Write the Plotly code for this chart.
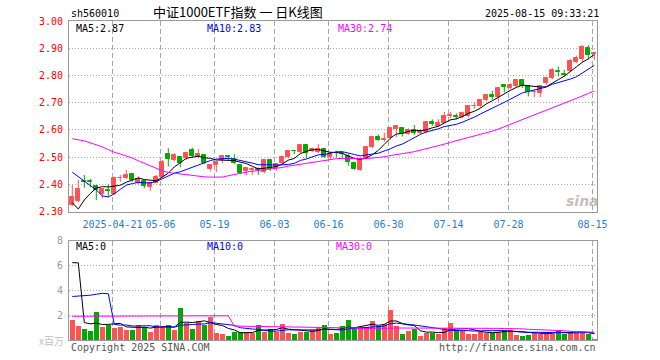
import plotly.graph_objects as go
import pandas as pd

# ---------------- data ----------------
dates = (
    ["04-10", "04-11", "04-14", "04-15", "04-16", "04-17", "04-18", "04-21", "04-22", "04-23",
     "04-24", "04-25", "04-28", "04-29", "04-30", "05-06", "05-07", "05-08", "05-09", "05-12",
     "05-13", "05-14", "05-15", "05-16", "05-19", "05-20", "05-21", "05-22", "05-23", "05-26",
     "05-27", "05-28", "05-29", "05-30", "06-03", "06-04", "06-05", "06-06", "06-09", "06-10",
     "06-11", "06-12", "06-13", "06-16", "06-17", "06-18", "06-19", "06-20", "06-23", "06-24",
     "06-25", "06-26", "06-27", "06-30", "07-01", "07-02", "07-03", "07-04", "07-07", "07-08",
     "07-09", "07-10", "07-11", "07-14", "07-15", "07-16", "07-17", "07-18", "07-21", "07-22",
     "07-23", "07-24", "07-25", "07-28", "07-29", "07-30", "07-31", "08-01", "08-04", "08-05",
     "08-06", "08-07", "08-08", "08-11", "08-12", "08-13", "08-14", "08-15"]
)

opens = [2.323, 2.339, 2.414, 2.413, 2.396, 2.365, 2.379, 2.365, 2.422, 2.423,
         2.437, 2.404, 2.413, 2.390, 2.407, 2.429, 2.511, 2.488, 2.502, 2.496,
         2.527, 2.502, 2.509, 2.457, 2.470, 2.490, 2.503, 2.494, 2.472, 2.448,
         2.453, 2.455, 2.445, 2.490, 2.460, 2.478, 2.502, 2.524, 2.518, 2.545,
         2.521, 2.520, 2.530, 2.499, 2.516, 2.514, 2.505, 2.480, 2.454, 2.496,
         2.537, 2.573, 2.565, 2.569, 2.603, 2.606, 2.585, 2.600, 2.588, 2.594,
         2.630, 2.615, 2.627, 2.653, 2.651, 2.649, 2.650, 2.687, 2.687, 2.711,
         2.729, 2.720, 2.766, 2.754, 2.762, 2.784, 2.760, 2.738, 2.736, 2.772,
         2.790, 2.816, 2.804, 2.815, 2.849, 2.860, 2.902, 2.878]
highs = [2.398, 2.417, 2.435, 2.420, 2.398, 2.386, 2.400, 2.429, 2.435, 2.453,
         2.440, 2.430, 2.416, 2.410, 2.435, 2.490, 2.533, 2.515, 2.505, 2.518,
         2.535, 2.530, 2.511, 2.474, 2.487, 2.508, 2.505, 2.511, 2.474, 2.463,
         2.463, 2.463, 2.493, 2.493, 2.478, 2.505, 2.527, 2.527, 2.548, 2.548,
         2.535, 2.548, 2.530, 2.521, 2.524, 2.518, 2.512, 2.484, 2.496, 2.541,
         2.578, 2.584, 2.590, 2.609, 2.615, 2.606, 2.606, 2.618, 2.602, 2.630,
         2.639, 2.639, 2.667, 2.667, 2.661, 2.667, 2.689, 2.702, 2.713, 2.732,
         2.744, 2.756, 2.766, 2.772, 2.784, 2.787, 2.766, 2.747, 2.763, 2.793,
         2.827, 2.833, 2.821, 2.861, 2.873, 2.912, 2.912, 2.883]
lows = [2.320, 2.335, 2.388, 2.390, 2.343, 2.350, 2.355, 2.361, 2.410, 2.420,
        2.410, 2.400, 2.386, 2.377, 2.405, 2.425, 2.465, 2.485, 2.463, 2.490,
        2.498, 2.496, 2.474, 2.448, 2.445, 2.478, 2.487, 2.474, 2.438, 2.433,
        2.435, 2.435, 2.441, 2.450, 2.450, 2.474, 2.496, 2.511, 2.515, 2.496,
        2.518, 2.515, 2.499, 2.490, 2.500, 2.495, 2.468, 2.454, 2.450, 2.493,
        2.533, 2.560, 2.557, 2.565, 2.573, 2.576, 2.582, 2.582, 2.585, 2.588,
        2.615, 2.612, 2.624, 2.643, 2.639, 2.643, 2.646, 2.678, 2.683, 2.705,
        2.711, 2.705, 2.738, 2.750, 2.756, 2.754, 2.723, 2.720, 2.720, 2.766,
        2.787, 2.796, 2.796, 2.812, 2.845, 2.849, 2.861, 2.857]
closes = [2.355, 2.382, 2.408, 2.408, 2.380, 2.382, 2.376, 2.423, 2.425, 2.435,
          2.416, 2.421, 2.394, 2.407, 2.429, 2.484, 2.493, 2.508, 2.480, 2.515,
          2.505, 2.511, 2.478, 2.472, 2.484, 2.505, 2.500, 2.478, 2.441, 2.460,
          2.455, 2.452, 2.490, 2.457, 2.474, 2.502, 2.523, 2.522, 2.545, 2.515,
          2.530, 2.530, 2.502, 2.512, 2.514, 2.512, 2.484, 2.456, 2.494, 2.539,
          2.573, 2.563, 2.568, 2.606, 2.615, 2.585, 2.600, 2.590, 2.598, 2.630,
          2.622, 2.627, 2.651, 2.655, 2.649, 2.663, 2.687, 2.689, 2.711, 2.729,
          2.720, 2.754, 2.757, 2.766, 2.784, 2.763, 2.741, 2.740, 2.760, 2.790,
          2.821, 2.814, 2.802, 2.854, 2.866, 2.906, 2.876, 2.883]
volumes = [1.64, 1.17, 0.93, 0.77, 2.28, 1.09, 1.22, 1.01, 1.09, 0.85,
           0.85, 1.25, 1.11, 0.72, 1.25, 1.11, 1.25, 0.85, 2.60, 1.38,
           0.93, 1.56, 1.25, 1.86, 0.64, 0.53, 0.37, 0.66, 0.72, 0.66,
           0.58, 1.25, 0.69, 0.95, 0.72, 1.35, 0.64, 0.53, 0.72, 0.72,
           0.85, 0.98, 1.25, 0.53, 0.64, 1.17, 1.64, 0.93, 1.11, 1.11,
           1.56, 1.17, 1.33, 2.44, 1.17, 0.53, 0.77, 0.90, 0.37, 0.58,
           0.58, 0.53, 1.01, 1.41, 0.85, 0.77, 0.53, 0.53, 0.72, 0.58,
           0.58, 0.72, 0.85, 0.85, 0.45, 0.40, 0.45, 0.64, 0.53, 0.53,
           0.53, 0.85, 0.53, 0.72, 0.58, 0.58, 0.53, 0.13]

# moving-average values at the start of the window (they depend on days before it)
ma5_head = [2.333, 2.310, 2.343, 2.367]
ma10_head = [2.445, 2.428, 2.410, 2.396, 2.380, 2.358, 2.354, 2.366, 2.382]
ma30_head = [2.568, 2.564, 2.560, 2.553, 2.546, 2.538, 2.528, 2.518, 2.512, 2.505,
             2.497, 2.487, 2.477, 2.468, 2.458, 2.450, 2.444, 2.441, 2.438, 2.436,
             2.433, 2.430, 2.428, 2.427, 2.426, 2.427, 2.432, 2.437, 2.441]
vma5_head = [6.22, 6.20, 1.40, 1.30]
vma10_head = [3.50, 3.52, 3.55, 3.60, 3.68, 3.75, 3.72, 1.25, 1.20]
vma30_head = [1.91] * 10 + [1.95] * 17 + [1.12, 1.11]

tick_dates = ["04-21", "05-06", "05-19", "06-03", "06-16", "06-30", "07-14", "07-28", "08-15"]
tick_labels = ["2025-04-21", "05-06", "05-19", "06-03", "06-16", "06-30", "07-14", "07-28", "08-15"]
price_ticks = [2.30, 2.40, 2.50, 2.60, 2.70, 2.80, 2.90, 3.00]
vol_ticks = [2, 4, 6, 8]

# ---------------- derived ----------------
def with_head(values, head, n):
    s = pd.Series(values).rolling(n).mean().tolist()
    return head + s[len(head):]

ma5 = with_head(closes, ma5_head, 5)
ma10 = with_head(closes, ma10_head, 10)
ma30 = with_head(closes, ma30_head, 30)
vma5 = with_head(volumes, vma5_head, 5)
vma10 = with_head(volumes, vma10_head, 10)
vma30 = with_head(volumes, vma30_head, 30)

RED = "#ff5252"
GREEN = "#00a800"
idx = list(range(len(dates)))
up = [c >= o for o, c in zip(opens, closes)]
colors = [RED if u else GREEN for u in up]
body_base = [min(o, c) for o, c in zip(opens, closes)]
body_h = [abs(c - o) for o, c in zip(opens, closes)]

fig = go.Figure()

# candle bodies
fig.add_trace(go.Bar(x=idx, y=body_h, base=body_base, width=0.62,
                     marker=dict(color=colors, line=dict(color=colors, width=1)),
                     xaxis="x", yaxis="y", showlegend=False, hoverinfo="skip"))
# wicks
for col, flag in ((RED, True), (GREEN, False)):
    wx, wy = [], []
    for i in idx:
        if up[i] == flag:
            wx += [i, i, None]
            wy += [lows[i], highs[i], None]
    fig.add_trace(go.Scatter(x=wx, y=wy, mode="lines", line=dict(color=col, width=1),
                             xaxis="x", yaxis="y", showlegend=False, hoverinfo="skip"))
# price MAs
for vals, col in ((ma5, "#000000"), (ma10, "#0000ff"), (ma30, "#ff00ff")):
    fig.add_trace(go.Scatter(x=idx, y=vals, mode="lines", line=dict(color=col, width=1),
                             xaxis="x", yaxis="y", showlegend=False, hoverinfo="skip"))

# volume bars
fig.add_trace(go.Bar(x=idx, y=volumes, width=0.8, marker=dict(color=colors, line=dict(width=0)),
                     xaxis="x2", yaxis="y2", showlegend=False, hoverinfo="skip"))
for vals, col in ((vma5, "#000000"), (vma10, "#0000ff"), (vma30, "#ff00ff")):
    fig.add_trace(go.Scatter(x=idx, y=vals, mode="lines", line=dict(color=col, width=1),
                             xaxis="x2", yaxis="y2", showlegend=False, hoverinfo="skip"))

# ---------------- layout ----------------
L, R, T, B = 69, 63, 21, 20
W, H = 660, 360
pw, ph = W - L - R, H - T - B

def px(x):
    return (x - L) / pw

def py(y):
    return (H - B - y) / ph

tickvals = [dates.index(d) - 0.3 for d in tick_dates]
xrange_ = [-0.55, len(dates) - 0.55]
MONO = "DejaVu Sans Mono"
GRID = "#a8a8a8"
AXIS = "#9a9a9a"

fig.update_layout(
    width=W, height=H,
    margin=dict(l=L, r=R, t=T, b=B, pad=0),
    paper_bgcolor="white", plot_bgcolor="white",
    barmode="overlay", bargap=0,
    font=dict(family=MONO, size=10, color="#000"),
    xaxis=dict(domain=[0, 1], anchor="y", range=xrange_, tickmode="array",
               tickvals=tickvals, ticktext=tick_labels,
               tickfont=dict(family=MONO, size=10, color="#1a80d0"),
               ticks="outside", ticklen=3, tickcolor="rgba(0,0,0,0)",
               showgrid=True, gridcolor=GRID, griddash="5px,3px", gridwidth=1,
               showline=True, linecolor=AXIS, linewidth=1, mirror=True,
               zeroline=False, fixedrange=True),
    yaxis=dict(domain=[py(211.7), 1], range=[2.30, 3.00], tickmode="array",
               tickvals=price_ticks, ticktext=[f"{v:.2f}" for v in price_ticks],
               tickfont=dict(family=MONO, size=10, color="#ff0000"),
               ticks="outside", ticklen=3, tickcolor="rgba(0,0,0,0)",
               showgrid=True, gridcolor=GRID, griddash="1px,2px", gridwidth=1,
               showline=True, linecolor=AXIS, linewidth=1, mirror=True,
               zeroline=False, fixedrange=True),
    xaxis2=dict(domain=[0, 1], anchor="y2", range=xrange_, tickmode="array",
                tickvals=tickvals, showticklabels=False, ticks="",
                showgrid=True, gridcolor=GRID, griddash="5px,3px", gridwidth=1,
                showline=True, linecolor=AXIS, linewidth=1, mirror=True,
                zeroline=False, fixedrange=True),
    yaxis2=dict(domain=[0, py(240.5)], range=[0, 8], tickmode="array",
                tickvals=vol_ticks, ticktext=[str(v) for v in vol_ticks],
                tickfont=dict(family=MONO, size=10, color="#9a9a9a"),
                ticks="outside", ticklen=3, tickcolor="rgba(0,0,0,0)",
                showgrid=True, gridcolor=GRID, griddash="1px,2px", gridwidth=1,
                showline=True, linecolor=AXIS, linewidth=1, mirror=True,
                zeroline=False, fixedrange=True),
)

def note(text, x, y, anchor="left", color="#000", size=10, family=MONO, **kw):
    fig.add_annotation(text=text, x=px(x), y=py(y), xref="paper", yref="paper",
                       xanchor=anchor, yanchor="middle", showarrow=False,
                       font=dict(family=family, size=size, color=color), **kw)

note("sh560010", 69, 13)
note("中证1000ETF指数 一 日K线图", 238, 12, anchor="center", size=13,
     family="Noto Sans CJK SC")
note("2025-08-15 09:33:21", 601, 13, anchor="right")
note("MA5:2.87", 74, 28)
note("MA10:2.83", 205, 28, color="#0000ff")
note("MA30:2.74", 336, 28, color="#ff00ff")
note("MA5:0", 74, 246)
note("MA10:0", 205, 246, color="#0000ff")
note("MA30:0", 334, 246, color="#ff00ff")
note("x百万", 66, 341, anchor="right", color="#c0c0c0", size=10,
     family="Noto Sans CJK SC")
note("Copyright 2025 SINA.COM", 69, 347, color="#555555")
note("http://finance.sina.com.cn", 598, 347, anchor="right", color="#555555")
note("<b><i>sina</i></b>", 582, 201, anchor="center", color="rgba(185,165,165,0.75)",
     size=14, family="DejaVu Sans")

fig.write_html("out.html")
